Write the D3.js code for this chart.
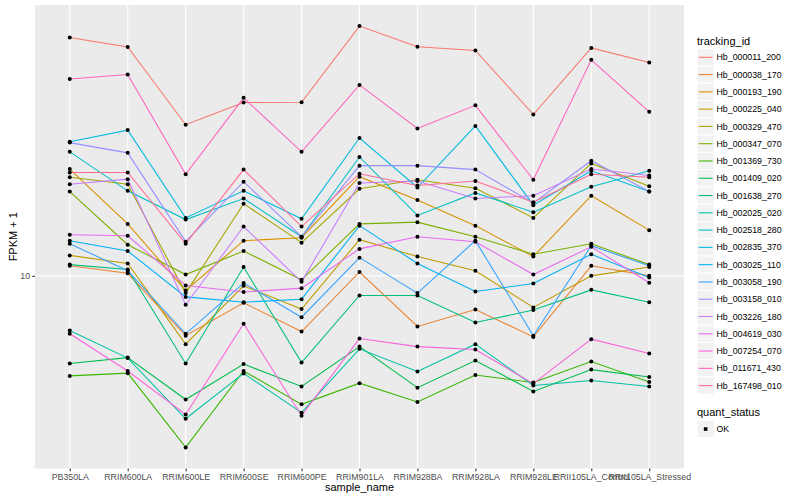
<!DOCTYPE html>
<html><head><meta charset="utf-8">
<script src="https://cdn.jsdelivr.net/npm/d3@7"></script>
<style>body{margin:0;background:#fff} text{font-family:"Liberation Sans",Arial,Helvetica,sans-serif}</style>
</head><body><svg id="c" width="800" height="500"></svg>
<script>
const categories = ["PB350LA","RRIM600LA","RRIM600LE","RRIM600SE","RRIM600PE","RRIM901LA","RRIM928BA","RRIM928LA","RRIM928LE","RRII105LA_Control","RRII105LA_Stressed"];
const seriesNames = ["Hb_000011_200","Hb_000038_170","Hb_000193_190","Hb_000225_040","Hb_000329_470","Hb_000347_070","Hb_001369_730","Hb_001409_020","Hb_001638_270","Hb_002025_020","Hb_002518_280","Hb_002835_370","Hb_003025_110","Hb_003058_190","Hb_003158_010","Hb_003226_180","Hb_004619_030","Hb_007254_070","Hb_011671_430","Hb_167498_010"];
const seriesColors = ["#F8766D","#EA8331","#D89000","#C09B00","#A3A500","#7CAE00","#39B600","#00BB4E","#00BF7D","#00C1A3","#00BFC4","#00BAE0","#00B0F6","#35A2FF","#9590FF","#C77CFF","#E76BF3","#FA62DB","#FF62BC","#FF6C91"];
const yTicks = [10];
const statusLevels = ["OK"];

// FPKM + 1 values per series, in category order
const Hb_000011_200 = [62.3, 57.9, 31.9, 37.8, 37.9, 68.0, 58.0, 56.4, 34.5, 57.5, 51.4];
const Hb_000038_170 = [10.8, 10.2, 6.32, 8.13, 6.52, 10.3, 6.78, 7.72, 6.26, 10.8, 10.0];
const Hb_000193_190 = [22.7, 14.9, 8.94, 13.1, 13.4, 21.4, 17.9, 14.7, 11.6, 18.5, 14.2];
const Hb_000225_040 = [11.7, 11.0, 5.92, 9.26, 7.75, 13.2, 11.6, 10.4, 7.85, 10.0, 10.7];
const Hb_000329_470 = [21.3, 20.2, 8.76, 17.4, 12.9, 19.5, 20.9, 19.6, 15.6, 23.7, 19.9];
const Hb_000347_070 = [19.1, 12.7, 10.1, 12.1, 9.70, 14.9, 15.1, 13.5, 11.8, 12.8, 10.9];
const Hb_001369_730 = [4.64, 4.74, 2.68, 4.82, 3.73, 4.39, 3.80, 4.67, 4.41, 5.18, 4.43];
const Hb_001409_020 = [5.10, 5.34, 3.87, 5.08, 4.28, 5.81, 4.24, 5.22, 4.12, 4.87, 4.60];
const Hb_001638_270 = [10.9, 10.5, 5.10, 10.7, 5.14, 8.60, 8.60, 6.99, 7.69, 8.98, 8.16];
const Hb_002025_020 = [6.57, 5.32, 3.34, 4.73, 3.50, 5.71, 4.80, 5.92, 4.31, 4.48, 4.28];
const Hb_002518_280 = [25.9, 19.2, 15.4, 18.1, 13.5, 24.9, 15.9, 18.9, 16.3, 19.8, 22.4];
const Hb_002835_370 = [28.0, 30.6, 15.6, 19.2, 15.5, 28.8, 19.7, 31.6, 17.2, 22.4, 19.1];
const Hb_003025_110 = [13.1, 12.1, 8.51, 8.17, 8.36, 14.7, 11.0, 8.87, 9.43, 11.8, 9.87];
const Hb_003058_190 = [12.8, 10.4, 6.41, 9.46, 7.28, 11.5, 8.76, 13.1, 6.31, 12.6, 10.8];
const Hb_003158_010 = [27.8, 25.7, 13.0, 20.6, 13.5, 23.3, 23.3, 22.6, 17.5, 24.2, 19.1];
const Hb_003226_180 = [20.2, 21.0, 8.01, 14.6, 9.55, 20.4, 20.7, 18.1, 18.5, 22.7, 21.6];
const Hb_004619_030 = [13.7, 13.6, 9.29, 8.83, 9.10, 12.3, 13.5, 13.0, 10.1, 12.5, 9.48];
const Hb_007254_070 = [6.41, 4.82, 3.45, 6.93, 3.42, 6.18, 5.81, 5.68, 4.37, 6.15, 5.51];
const Hb_011671_430 = [45.3, 46.9, 21.8, 39.2, 25.9, 43.3, 31.0, 37.0, 20.9, 52.5, 35.2];
const Hb_167498_010 = [22.1, 22.1, 12.8, 22.6, 14.6, 21.9, 20.0, 20.7, 17.6, 21.8, 21.3];

const seriesValues = [Hb_000011_200,Hb_000038_170,Hb_000193_190,Hb_000225_040,Hb_000329_470,Hb_000347_070,Hb_001369_730,Hb_001409_020,Hb_001638_270,Hb_002025_020,Hb_002518_280,Hb_002835_370,Hb_003025_110,Hb_003058_190,Hb_003158_010,Hb_003226_180,Hb_004619_030,Hb_007254_070,Hb_011671_430,Hb_167498_010];
const series = seriesNames.map((n,i)=>({name:n, color:seriesColors[i], values:seriesValues[i]}));

const svg = d3.select("#c");
const P = {l:35, r:684, t:5, b:468.5};
const lw = 1.07;

const x = d3.scalePoint().domain(categories).range([P.l, P.r]).padding(0.6);
const all = seriesValues.flat();
const lmin = Math.log10(d3.min(all)), lmax = Math.log10(d3.max(all));
const ex = (lmax - lmin) * 0.05;
const y = d3.scaleLog().domain([Math.pow(10, lmin - ex), Math.pow(10, lmax + ex)]).range([P.b, P.t]);

svg.append("rect").attr("x",P.l).attr("y",P.t).attr("width",P.r-P.l).attr("height",P.b-P.t).attr("fill","#EBEBEB");
const grid = svg.append("g").attr("stroke","#fff").attr("stroke-width",lw);
yTicks.forEach(t=>grid.append("line").attr("x1",P.l).attr("x2",P.r).attr("y1",y(t)).attr("y2",y(t)));
categories.forEach(c=>grid.append("line").attr("x1",x(c)).attr("x2",x(c)).attr("y1",P.t).attr("y2",P.b));

const line = d3.line().x((d,i)=>x(categories[i])).y(d=>y(d));
const gl = svg.append("g");
series.forEach(s=>{
  gl.append("path").attr("d", line(s.values)).attr("fill","none").attr("stroke", s.color).attr("stroke-width", lw);
});
const gp = svg.append("g");
series.forEach(s=>{
  s.values.forEach((v,i)=>{
    gp.append("circle").attr("cx", x(categories[i])).attr("cy", y(v)).attr("r", 2).attr("fill","#000");
  });
});

// axes
const xa = svg.append("g").attr("transform",`translate(0,${P.b})`)
  .call(d3.axisBottom(x).tickSize(2.75).tickPadding(2.2));
xa.select(".domain").remove();
xa.selectAll("line").attr("stroke","#333333").attr("stroke-width",lw);
xa.selectAll("text").attr("fill","#4D4D4D").style("font-size","8.8px").attr("font-family",null);

const ya = svg.append("g").attr("transform",`translate(${P.l},0)`)
  .call(d3.axisLeft(y).tickValues(yTicks).tickFormat(d3.format("d")).tickSize(2.75).tickPadding(2.2));
ya.select(".domain").remove();
ya.selectAll("line").attr("stroke","#333333").attr("stroke-width",lw);
ya.selectAll("text").attr("fill","#4D4D4D").style("font-size","8.8px").attr("font-family",null);

svg.append("text").attr("x",(P.l+P.r)/2).attr("y",491).attr("text-anchor","middle").style("font-size","11px").text("sample_name");
svg.append("text").attr("transform",`translate(17,${(P.t+P.b)/2}) rotate(-90)`).attr("text-anchor","middle").style("font-size","11px").text("FPKM + 1");

// legend
const lg = svg.append("g");
const kx = 697, ks = 17.28, k0 = 48.66;
lg.append("text").attr("x",kx).attr("y",44.5).style("font-size","11px").text("tracking_id");
series.forEach((s,i)=>{
  const yy = k0 + i*ks;
  lg.append("rect").attr("x",kx).attr("y",yy).attr("width",ks).attr("height",ks).attr("fill","#F2F2F2").attr("stroke","#fff").attr("stroke-width",1);
  lg.append("line").attr("x1",kx+1.7).attr("x2",kx+ks-1.7).attr("y1",yy+ks/2).attr("y2",yy+ks/2).attr("stroke",s.color).attr("stroke-width",lw);
  lg.append("text").attr("x",716.5).attr("y",yy+ks/2).attr("dy","0.35em").style("font-size","8.8px").text(s.name);
});
lg.append("text").attr("x",kx).attr("y",416).style("font-size","11px").text("quant_status");
statusLevels.forEach((st,i)=>{
  const yy = 420.4 + i*ks;
  lg.append("rect").attr("x",kx).attr("y",yy).attr("width",ks).attr("height",ks).attr("fill","#F2F2F2").attr("stroke","#fff").attr("stroke-width",1);
  lg.append("rect").attr("x",kx+ks/2-1.8).attr("y",yy+ks/2-1.8).attr("width",3.6).attr("height",3.6).attr("fill","#000");
  lg.append("text").attr("x",716.5).attr("y",yy+ks/2).attr("dy","0.35em").style("font-size","8.8px").text(st);
});
</script></body></html>
